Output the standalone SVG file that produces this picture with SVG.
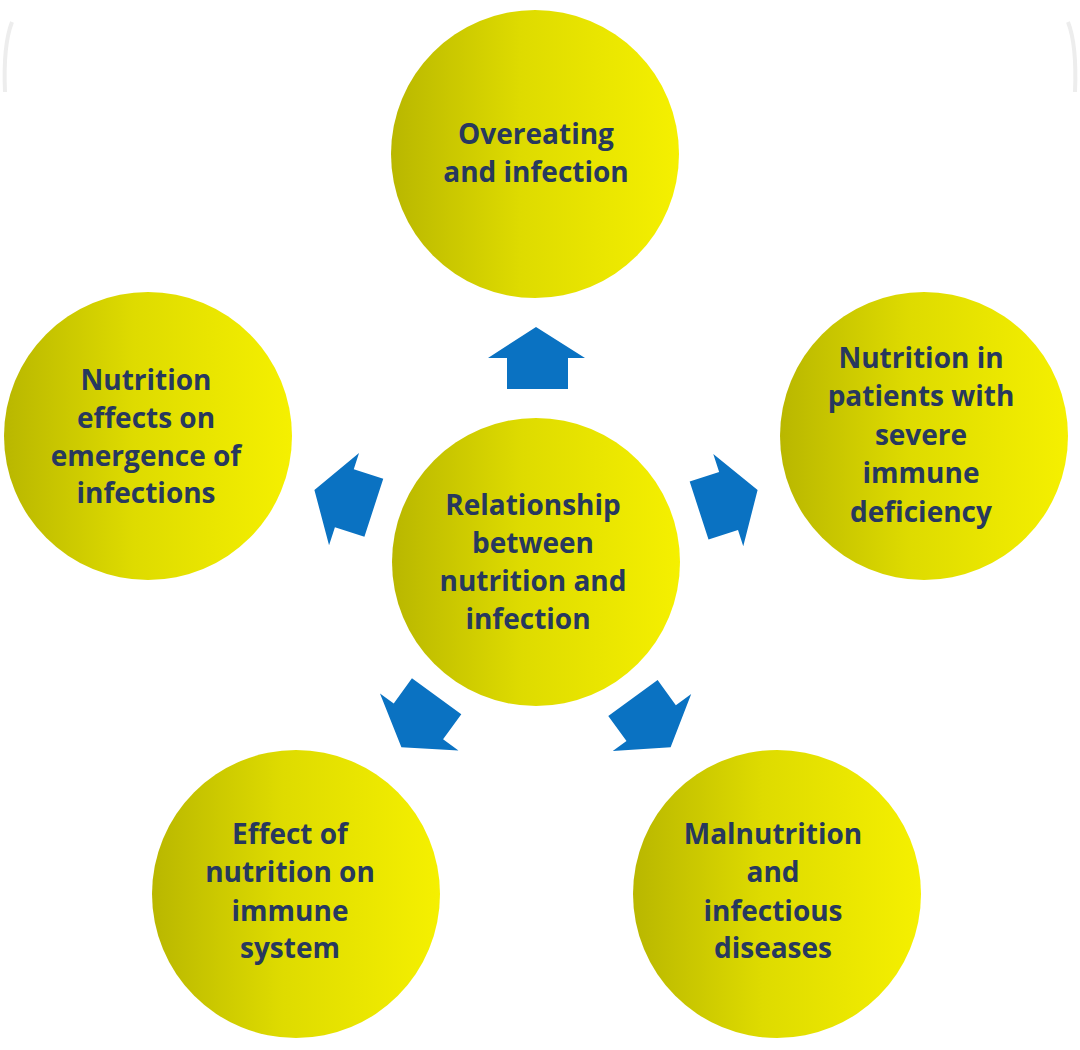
<svg xmlns="http://www.w3.org/2000/svg" width="1080" height="1050" viewBox="0 0 1080 1050">
<defs>
<linearGradient id="yg" x1="0" y1="0" x2="1" y2="0">
<stop offset="0" stop-color="#b9b700"/>
<stop offset="0.45" stop-color="#dedb00"/>
<stop offset="1" stop-color="#f5f000"/>
</linearGradient>
<path id="arr" d="M0,-33 L49,-2 L32,-2 L32,29 L-29,29 L-29,-2 L-48,-2 Z"/>
</defs>
<style>
.c{fill:url(#yg);}
.t{font-family:"Open Sans","Liberation Sans",sans-serif;font-weight:bold;font-size:28px;fill:#27385e;text-anchor:middle;}
.a{fill:#0a72c2;}
.fr{fill:none;stroke:#ededed;stroke-width:4;}
</style>
<rect width="1080" height="1050" fill="#ffffff"/>
<path class="fr" d="M12,22 Q3,45 5,92"/>
<path class="fr" d="M1068,22 Q1077,45 1075,92"/>
<g id="connectors">
<use href="#arr" class="a" transform="translate(536,562) rotate(0) translate(0,-202)"/>
<use href="#arr" class="a" transform="translate(536,562) rotate(72) translate(0,-200)"/>
<use href="#arr" class="a" transform="translate(536,562) rotate(144) translate(0,-196)"/>
<use href="#arr" class="a" transform="translate(536,562) rotate(216) translate(0,-196)"/>
<use href="#arr" class="a" transform="translate(536,562) rotate(288) translate(0,-200)"/>
</g>
<g id="n-center">
<circle class="c" cx="536" cy="562" r="144"/>
<text class="t"><tspan x="533" y="515">Relationship</tspan><tspan x="533" y="553">between</tspan><tspan x="533" y="591">nutrition and</tspan><tspan x="528" y="629">infection</tspan></text>
</g>
<g id="n-top">
<circle class="c" cx="535" cy="154" r="144"/>
<text class="t"><tspan x="536" y="144">Overeating</tspan><tspan x="536" y="182">and infection</tspan></text>
</g>
<g id="n-right">
<circle class="c" cx="924" cy="436" r="144"/>
<text class="t"><tspan x="921" y="368">Nutrition in</tspan><tspan x="921" y="406">patients with</tspan><tspan x="921" y="445">severe</tspan><tspan x="921" y="483">immune</tspan><tspan x="921" y="522">deficiency</tspan></text>
</g>
<g id="n-left">
<circle class="c" cx="148" cy="436" r="144"/>
<text class="t"><tspan x="146" y="390">Nutrition</tspan><tspan x="146" y="428">effects on</tspan><tspan x="146" y="466">emergence of</tspan><tspan x="146" y="503">infections</tspan></text>
</g>
<g id="n-bottom-left">
<circle class="c" cx="296" cy="894" r="144"/>
<text class="t"><tspan x="290" y="844">Effect of</tspan><tspan x="290" y="882">nutrition on</tspan><tspan x="290" y="921">immune</tspan><tspan x="290" y="958">system</tspan></text>
</g>
<g id="n-bottom-right">
<circle class="c" cx="777" cy="894" r="144"/>
<text class="t"><tspan x="773" y="844">Malnutrition</tspan><tspan x="773" y="882">and</tspan><tspan x="773" y="921">infectious</tspan><tspan x="773" y="958">diseases</tspan></text>
</g>
</svg>
